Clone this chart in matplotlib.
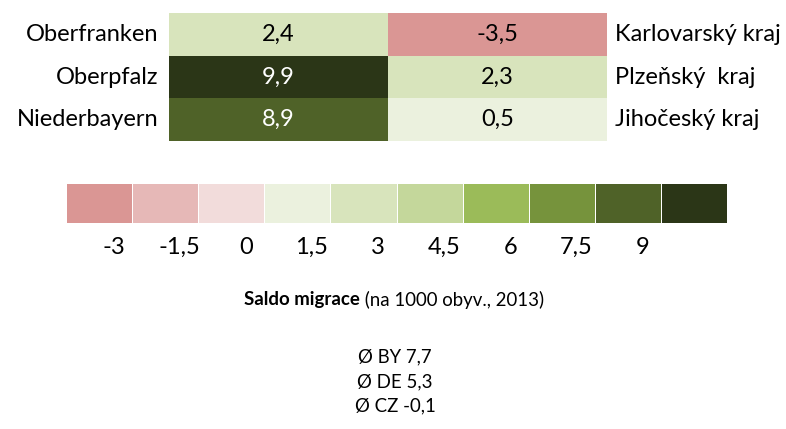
import matplotlib
matplotlib.use("Agg")
import matplotlib.pyplot as plt
import numpy as np
from matplotlib.colors import ListedColormap, BoundaryNorm

plt.rcParams['font.family'] = ['Lato', 'DejaVu Sans']

# Data
regions_de = ["Oberfranken", "Oberpfalz", "Niederbayern"]
values_de = [2.4, 9.9, 8.9]
regions_cz = ["Karlovarský kraj", "Plzeňský  kraj", "Jihočeský kraj"]
values_cz = [-3.5, 2.3, 0.5]

bounds = [-4.5, -3, -1.5, 0, 1.5, 3, 4.5, 6, 7.5, 9, 10.5]
tick_labels = ["-3", "-1,5", "0", "1,5", "3", "4,5", "6", "7,5", "9"]
colors = ["#DA9694", "#E6B8B7", "#F2DCDB", "#EBF1DE", "#D8E4BC",
          "#C4D79B", "#9BBB59", "#76933C", "#4F6228", "#2B3617"]

title_bold = "Saldo migrace"
title_rest = " (na 1000 obyv., 2013)"
averages = ["Ø BY 7,7", "Ø DE 5,3", "Ø CZ -0,1"]

cmap = ListedColormap(colors)
norm = BoundaryNorm(bounds, cmap.N)

W, H = 786, 429
fig = plt.figure(figsize=(W / 100, H / 100), dpi=100)

def fx(px):
    return px / W

def fy(py):
    return 1 - py / H

fs_big = 17
fs_small = 13.4

# Table of the six regions
ax = fig.add_axes([fx(169), fy(141), fx(607 - 169), (141 - 13) / H])
grid = np.array([values_de, values_cz]).T
ax.pcolormesh(grid, cmap=cmap, norm=norm)
ax.set_xlim(0, 2)
ax.set_ylim(3, 0)
ax.axis("off")
for i in range(3):
    for j in range(2):
        v = grid[i, j]
        col = "white" if v > 7.5 else "black"
        ax.text(j + 0.5, i + 0.5, f"{v:.1f}".replace(".", ","), ha="center",
                va="center", fontsize=fs_big, color=col)
    ax.text(-0.05, i + 0.5, regions_de[i], ha="right", va="center", fontsize=fs_big)
    ax.text(2.035, i + 0.5, regions_cz[i], ha="left", va="center", fontsize=fs_big)

# Legend bar
lax = fig.add_axes([fx(66), fy(223), fx(727 - 66), (223 - 183) / H])
mids = [(bounds[k] + bounds[k + 1]) / 2 for k in range(len(colors))]
lax.pcolormesh(np.array([mids]), cmap=cmap, norm=norm, edgecolors="white", linewidth=0.7)
lax.set_xlim(0, len(colors))
lax.set_ylim(0, 1)
lax.axis("off")
for k, lab in enumerate(tick_labels):
    lax.text(k + 0.72, -0.62, lab, ha="center", va="center", fontsize=fs_big)

# Title: bold part + normal part, centred together
renderer = fig.canvas.get_renderer()
tb = fig.text(0, fy(300), title_bold, ha="left", va="center", fontsize=fs_small,
              fontweight="bold")
tr = fig.text(0, fy(300), title_rest, ha="left", va="center", fontsize=fs_small)
wb = tb.get_window_extent(renderer).width
wr = tr.get_window_extent(renderer).width
x0 = 394 - (wb + wr) / 2
tb.set_x(x0 / W)
tr.set_x((x0 + wb) / W)

for k, s in enumerate(averages):
    fig.text(fx(395), fy(357 + 24.5 * k), s, ha="center", va="center", fontsize=fs_small)

fig.savefig("out.png", dpi=100)
